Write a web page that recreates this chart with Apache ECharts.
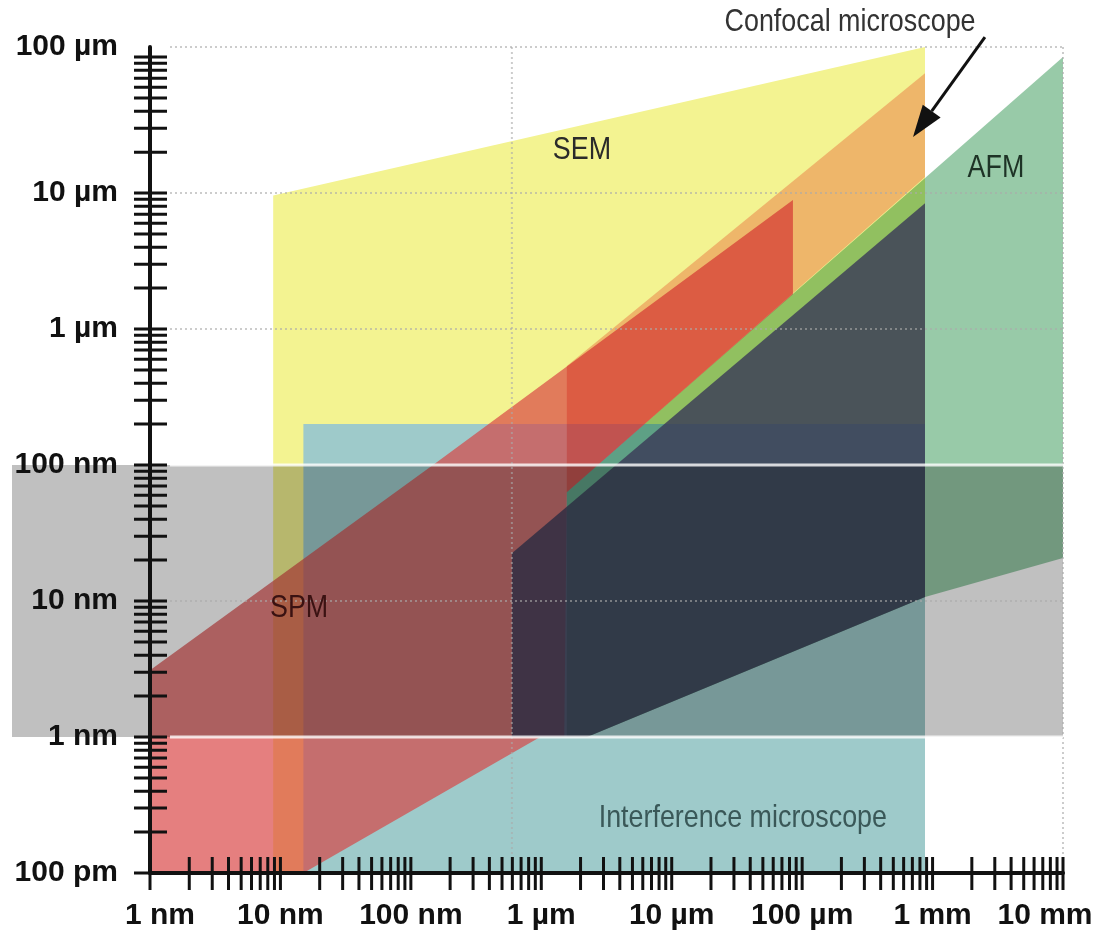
<!DOCTYPE html>
<html>
<head>
<meta charset="utf-8">
<title>Measurement ranges of surface instruments</title>
<script src="https://cdn.jsdelivr.net/npm/echarts@6.0.0/dist/echarts.min.js"></script>
<style>
  html, body { margin: 0; padding: 0; background: #fff; }
  #chart { width: 1099px; height: 937px; }
</style>
</head>
<body>
<div id="chart"></div>
<script>
// axis ranges, metres (lateral on x, vertical on y)
const X_MIN = 1e-9, X_MAX = 1e-2;
const Y_MIN = 1e-10, Y_MAX = 1.186e-4;

// tick labels
const xLabelVals = [1e-9, 1e-8, 1e-7, 1e-6, 1e-5, 1e-4, 1e-3, 1e-2];
const xLabelText = ['1 nm', '10 nm', '100 nm', '1 µm', '10 µm', '100 µm', '1 mm', '10 mm'];
const yLabelVals = [1e-10, 1e-9, 1e-8, 1e-7, 1e-6, 1e-5, 1e-4];
const yLabelText = ['100 pm', '1 nm', '10 nm', '100 nm', '1 µm', '10 µm', '100 µm'];
const tickSteps = [1, 2, 3, 4, 5, 6, 7, 8, 9];

// instrument regions, [lateral, vertical] corners
const semRegion = [[8.8e-9, 9.6e-6], [8.75e-4, 1.186e-4], [8.75e-4, 1e-10], [8.8e-9, 1e-10]];
const interferenceRegion = [[1.5e-8, 2e-7], [8.75e-4, 2e-7], [8.75e-4, 1e-10], [1.5e-8, 1e-10]];
const spmRegion = [[1e-9, 3.1e-9], [1.58e-7, 1.05e-7], [8.5e-5, 8.9e-6], [8.5e-5, 1.8e-6],
  [1.57e-6, 6.3e-8], [1.5e-6, 1e-9], [9.8e-7, 1e-9], [1.5e-8, 1e-10], [1e-9, 1e-10]];
const confocalRegion = [[1.57e-6, 5.35e-7], [8.75e-4, 7.6e-5], [8.75e-4, 1.31e-5], [1.57e-6, 6.3e-8]];
const afmRegion = [[1.57e-6, 6.3e-8], [1e-2, 1.0e-4], [1e-2, 2.07e-8], [8.75e-4, 1.07e-8],
  [2.24e-6, 1e-9], [1.57e-6, 1e-9]];
const darkRegion = [[5.95e-7, 2.25e-8], [8.75e-4, 8.4e-6], [8.75e-4, 1.07e-8], [2.24e-6, 1e-9], [5.95e-7, 1e-9]];
const grayBand = [[8.75e-11, 1e-7], [1e-2, 1e-7], [1e-2, 1e-9], [8.75e-11, 1e-9]];

// grid lines
const dottedRows = [Y_MAX, 1e-5, 1e-6, 1e-8];
const whiteRows = [1e-7, 1e-9];
const dottedCols = [5.95e-7, 1e-2];

// annotations
const noteText = ['SEM', 'Confocal microscope', 'AFM', 'SPM', 'Interference microscope'];
const notePos = [[2.05e-6, 2.07e-5], [2.33e-4, 1.81e-4], [3.06e-3, 1.53e-5], [1.39e-8, 8.9e-9], [3.51e-5, 2.53e-10]];
const noteColor = ['#2a2a2a', '#333333', '#1e3326', '#3a1212', '#3a5858'];
const arrowFrom = [2.52e-3, 1.40e-4];
const arrowTo = [7.08e-4, 2.58e-5];

const FONT = '"Liberation Sans", Arial, sans-serif';

function decadeTicks(lo, hi) {
  const out = [];
  for (let e = lo; e < hi; e++) tickSteps.forEach(s => out.push(s * Math.pow(10, e)));
  out.push(Math.pow(10, hi));
  return out;
}
const xTickVals = decadeTicks(-9, -2);
const yTickVals = decadeTicks(-10, -4);

function regionSeries(name, pts, fill, blend) {
  return {
    name: name,
    type: 'custom',
    silent: true,
    blendMode: blend || 'source-over',
    data: [pts[0]],
    renderItem: (params, api) => ({
      type: 'polygon',
      shape: { points: pts.map(p => api.coord(p)) },
      style: { fill: fill }
    })
  };
}

function rowLines(vals, color, width, dash) {
  return {
    type: 'custom',
    silent: true,
    data: vals.map(v => [X_MIN, v]),
    renderItem: (params, api) => {
      const a = api.coord([X_MIN, api.value(1)]);
      const b = api.coord([X_MAX, api.value(1)]);
      return {
        type: 'line',
        shape: { x1: a[0] + 20, y1: a[1], x2: b[0], y2: b[1] },
        style: { stroke: color, lineWidth: width, lineDash: dash }
      };
    }
  };
}

function colLines(vals, color, width, dash) {
  return {
    type: 'custom',
    silent: true,
    data: vals.map(v => [v, Y_MIN]),
    renderItem: (params, api) => {
      const a = api.coord([api.value(0), Y_MAX]);
      const b = api.coord([api.value(0), Y_MIN]);
      return {
        type: 'line',
        shape: { x1: a[0], y1: a[1], x2: b[0], y2: b[1] - 14 },
        style: { stroke: color, lineWidth: width, lineDash: dash }
      };
    }
  };
}

const option = {
  backgroundColor: '#ffffff',
  animation: false,
  tooltip: { show: false },
  grid: { left: 150, right: 36, top: 47, bottom: 64 },
  xAxis: {
    type: 'log', logBase: 10, min: X_MIN, max: X_MAX, z: 5,
    axisLine: { show: true, onZero: false, lineStyle: { color: '#111', width: 4 } },
    axisTick: { show: false }, axisLabel: { show: false }, splitLine: { show: false }
  },
  yAxis: {
    type: 'log', logBase: 10, min: Y_MIN, max: Y_MAX, z: 5,
    axisLine: { show: true, onZero: false, lineStyle: { color: '#111', width: 4 } },
    axisTick: { show: false }, axisLabel: { show: false }, splitLine: { show: false }
  },
  series: [
    regionSeries('SEM', semRegion, '#f3f391'),
    regionSeries('Interference microscope', interferenceRegion, '#9ecaca'),
    regionSeries('SPM', spmRegion, 'rgba(216,64,64,0.67)'),
    regionSeries('Confocal microscope', confocalRegion, 'rgb(250,191,186)', 'multiply'),
    regionSeries('AFM', afmRegion, 'rgb(152,202,168)', 'multiply'),
    regionSeries('overlap', darkRegion, 'rgba(58,58,88,0.82)'),
    regionSeries('band', grayBand, '#c0c0c0', 'multiply'),
    rowLines(dottedRows, 'rgba(170,170,170,0.6)', 2, [2, 3]),
    colLines(dottedCols, 'rgba(170,170,170,0.6)', 2, [2, 3]),
    rowLines(whiteRows, 'rgba(255,255,255,0.8)', 3, null),
    {
      // annotations
      type: 'custom', silent: true,
      data: notePos,
      renderItem: (params, api) => {
        const p = api.coord([api.value(0), api.value(1)]);
        return {
          type: 'text', x: p[0], y: p[1], scaleX: 0.84,
          style: {
            x: 0, y: 0, text: noteText[params.dataIndex], fill: noteColor[params.dataIndex],
            font: '32px ' + FONT, align: 'center', verticalAlign: 'middle'
          }
        };
      }
    },
    {
      // arrow to confocal region
      type: 'custom', silent: true,
      data: [arrowFrom],
      renderItem: (params, api) => {
        const a = api.coord(arrowFrom);
        const b = api.coord(arrowTo);
        const len = Math.hypot(b[0] - a[0], b[1] - a[1]);
        const dx = (b[0] - a[0]) / len, dy = (b[1] - a[1]) / len;
        const bx = b[0] - dx * 32, by = b[1] - dy * 32;
        return {
          type: 'group',
          children: [
            { type: 'line', shape: { x1: a[0], y1: a[1], x2: bx, y2: by },
              style: { stroke: '#111', lineWidth: 3 } },
            { type: 'polygon',
              shape: { points: [[b[0], b[1]], [bx - dy * 11, by + dx * 11], [bx + dy * 11, by - dx * 11]] },
              style: { fill: '#111' } }
          ]
        };
      }
    },
    {
      // x ticks, crossing the axis
      type: 'custom', silent: true,
      data: xTickVals.map(v => [v, Y_MIN]),
      renderItem: (params, api) => {
        const p = api.coord([api.value(0), Y_MIN]);
        return { type: 'line', shape: { x1: p[0], y1: p[1] - 16, x2: p[0], y2: p[1] + 17 },
          style: { stroke: '#111', lineWidth: 3 } };
      }
    },
    {
      // y ticks
      type: 'custom', silent: true,
      data: yTickVals.map(v => [X_MIN, v]),
      renderItem: (params, api) => {
        const p = api.coord([X_MIN, api.value(1)]);
        return { type: 'line', shape: { x1: p[0] - 16, y1: p[1], x2: p[0] + 17, y2: p[1] },
          style: { stroke: '#111', lineWidth: 3 } };
      }
    },
    {
      // x tick labels
      type: 'custom', silent: true,
      data: xLabelVals.map(v => [v, Y_MIN]),
      renderItem: (params, api) => {
        const p = api.coord([api.value(0), Y_MIN]);
        const i = params.dataIndex;
        const nudge = i === 0 ? 10 : (i === xLabelVals.length - 1 ? -18 : 0);
        return {
          type: 'text', x: p[0] + nudge, y: p[1] + 28,
          style: { text: xLabelText[i], fill: '#111', font: 'bold 30px ' + FONT,
            align: 'center', verticalAlign: 'top' }
        };
      }
    },
    {
      // y tick labels
      type: 'custom', silent: true,
      data: yLabelVals.map(v => [X_MIN, v]),
      renderItem: (params, api) => {
        const p = api.coord([X_MIN, api.value(1)]);
        const i = params.dataIndex;
        const nudge = i === yLabelVals.length - 1 ? -10 : 0;
        return {
          type: 'text', x: p[0] - 32, y: p[1] + nudge,
          style: { text: yLabelText[i], fill: '#111', font: 'bold 30px ' + FONT,
            align: 'right', verticalAlign: 'middle' }
        };
      }
    }
  ]
};

const chart = echarts.init(document.getElementById('chart'), null, { renderer: 'canvas' });
chart.setOption(option);
</script>
</body>
</html>
